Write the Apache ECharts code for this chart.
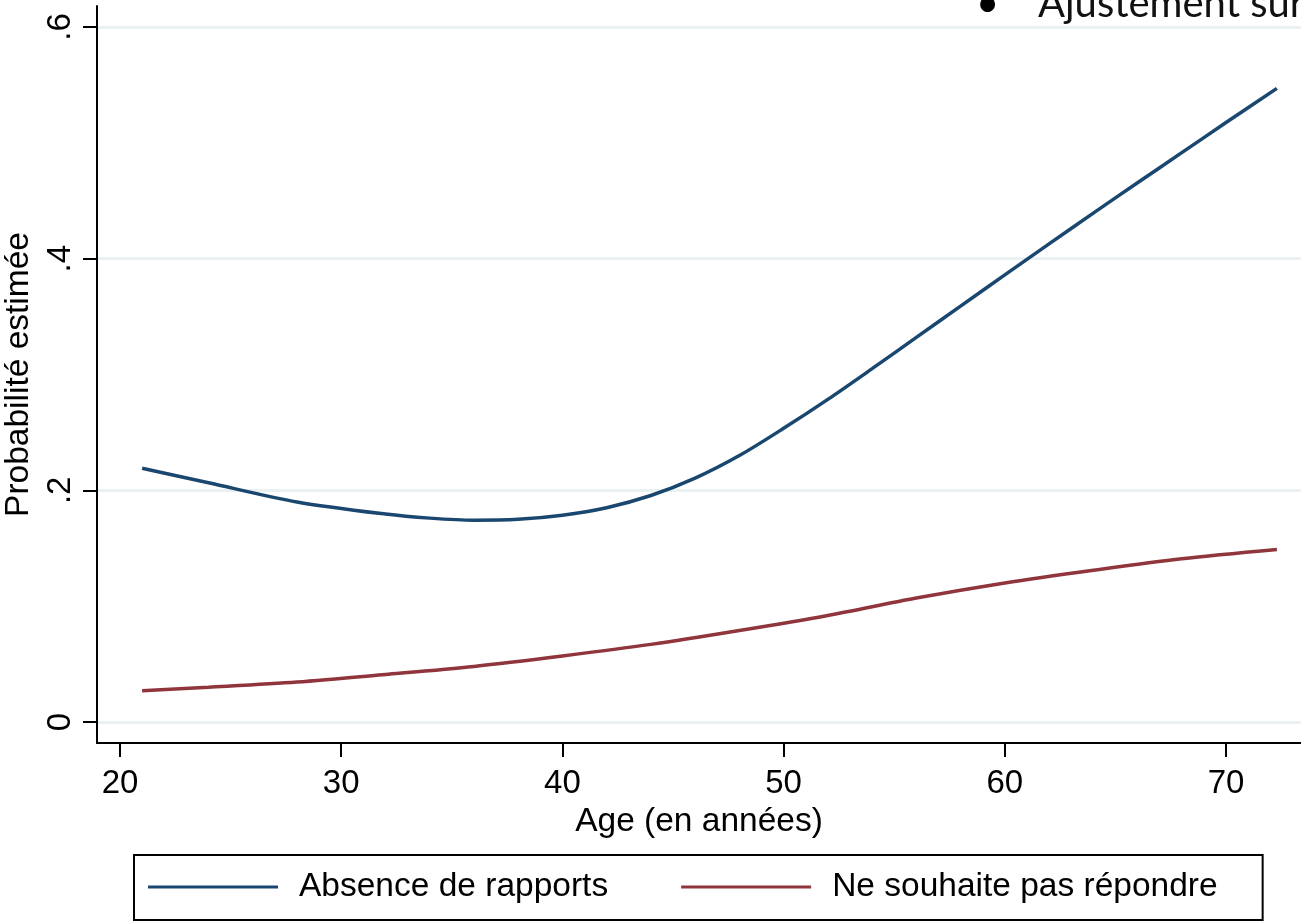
<!DOCTYPE html>
<html>
<head>
<meta charset="utf-8">
<script src="https://cdn.jsdelivr.net/npm/echarts@6/dist/echarts.min.js"></script>
<style>
  html, body { margin: 0; padding: 0; background: #fff; }
  #chart { width: 1301px; height: 923px; }
</style>
</head>
<body>
<div id="chart"></div>
<script>
// ---- Data ----
const agesAbsence = [21, 24, 28, 32, 34, 36, 38, 40, 42, 44, 46, 48, 50, 52, 54, 56, 58, 60, 62, 64, 66, 68, 70, 72.3];
const valuesAbsence = [0.219, 0.2065, 0.190, 0.1795, 0.176, 0.1742, 0.175, 0.1785, 0.185, 0.1955, 0.2105, 0.230, 0.2535, 0.2785, 0.305, 0.332, 0.359, 0.386, 0.4128, 0.4393, 0.4655, 0.4915, 0.5175, 0.547];

const agesRefus = [21, 24, 28, 32, 36, 40, 44, 48, 52, 56, 60, 64, 68, 72.3];
const valuesRefus = [0.027, 0.030, 0.0345, 0.041, 0.048, 0.057, 0.067, 0.079, 0.092, 0.107, 0.120, 0.131, 0.141, 0.149];

const seriesNames = ['Absence de rapports', 'Ne souhaite pas répondre'];
const xTicks = [20, 30, 40, 50, 60, 70];
const yTicks = [0, 0.2, 0.4, 0.6];
const yTickLabels = ['0', '.2', '.4', '.6'];
const xTitle = 'Age (en années)';
const yTitle = 'Probabilité estimée';
const noteText = 'Ajustement sur';

// ---- Chart ----
const FONT = "'Liberation Sans', Arial, sans-serif";
const chart = echarts.init(document.getElementById('chart'), null, { renderer: 'canvas' });

function zip(a, b) { return a.map((v, i) => [v, b[i]]); }

const option = {
  backgroundColor: '#ffffff',
  animation: false,
  title: {
    text: '{b|•}{t|' + noteText + '}',
    left: 976,
    top: -16,
    padding: 0,
    textStyle: {
      fontWeight: 'normal',
      rich: {
        b: { fontSize: 40, fontFamily: 'Lato, sans-serif', fontWeight: 'normal', color: '#000', width: 62 },
        t: { fontSize: 40, fontFamily: 'Lato, sans-serif', fontWeight: 'normal', color: '#111' }
      }
    }
  },
  grid: { left: 97, right: 0, top: 6, bottom: 180, containLabel: false, outerBoundsMode: 'none' },
  legend: {
    data: seriesNames,
    left: 134,
    top: 855,
    orient: 'horizontal',
    icon: 'rect',
    itemWidth: 130,
    itemHeight: 3,
    itemGap: 73,
    borderColor: '#000',
    borderWidth: 2,
    padding: [14, 45, 15, 14],
    textStyle: { fontSize: 33.5, color: '#000', fontFamily: FONT, lineHeight: 36, padding: [0, 0, 0, 16] }
  },
  xAxis: {
    type: 'value',
    min: 18.96,
    max: 73.39,
    axisLine: { show: true, onZero: false, lineStyle: { color: '#000', width: 2 } },
    axisTick: { show: true, customValues: xTicks, length: 14, lineStyle: { color: '#000', width: 2 } },
    axisLabel: { customValues: xTicks, fontSize: 33, color: '#000', fontFamily: FONT, margin: 24 },
    splitLine: { show: false },
    name: xTitle,
    nameLocation: 'middle',
    nameGap: 61,
    nameTextStyle: { fontSize: 33.5, color: '#000', fontFamily: FONT }
  },
  yAxis: {
    type: 'value',
    min: -0.01813,
    max: 0.6181,
    axisLine: { show: true, onZero: false, lineStyle: { color: '#000', width: 2 } },
    axisTick: { show: true, customValues: yTicks, length: 14, lineStyle: { color: '#000', width: 2 } },
    axisLabel: {
      customValues: yTicks,
      rotate: 90,
      fontSize: 33,
      color: '#000',
      fontFamily: FONT,
      margin: 20,
      formatter: function (v) {
        const i = yTicks.findIndex(t => Math.abs(t - v) < 1e-9);
        return i >= 0 ? yTickLabels[i] : '';
      }
    },
    splitLine: { show: true, lineStyle: { color: '#eaf1f3', width: 3 } },
    name: yTitle,
    nameLocation: 'middle',
    nameGap: 45,
    nameRotate: 90,
    nameTextStyle: { fontSize: 33.5, color: '#000', fontFamily: FONT }
  },
  series: [
    {
      name: seriesNames[0],
      type: 'line',
      data: zip(agesAbsence, valuesAbsence),
      smooth: 0.3,
      symbol: 'none',
      showSymbol: false,
      lineStyle: { color: '#1a476f', width: 3.5 },
      itemStyle: { color: '#1a476f' }
    },
    {
      name: seriesNames[1],
      type: 'line',
      data: zip(agesRefus, valuesRefus),
      smooth: 0.3,
      symbol: 'none',
      showSymbol: false,
      lineStyle: { color: '#90353b', width: 3.5 },
      itemStyle: { color: '#90353b' }
    }
  ]
};
chart.setOption(option);
</script>
</body>
</html>
